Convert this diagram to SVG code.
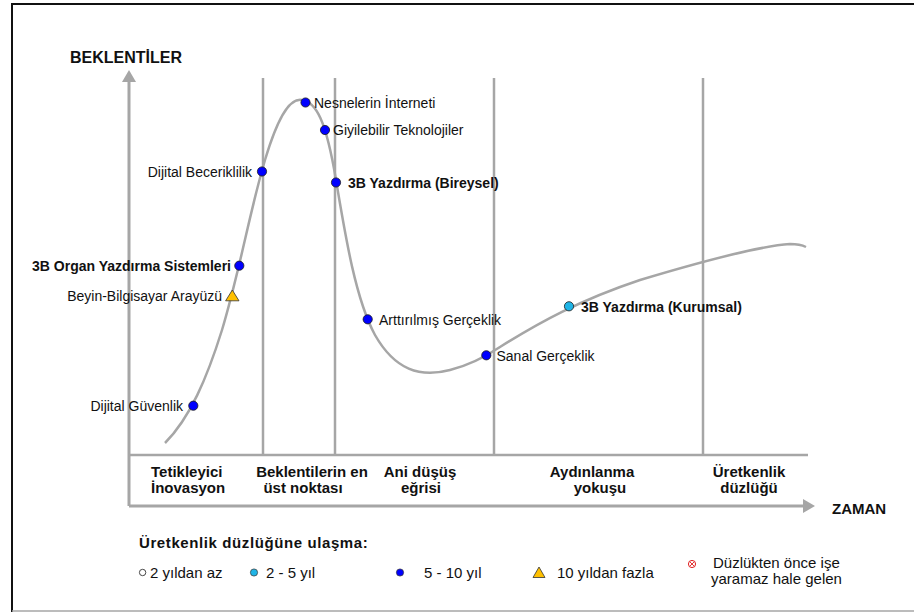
<svg xmlns="http://www.w3.org/2000/svg" width="914" height="612" viewBox="0 0 914 612">
<style>
.t{font-family:"Liberation Sans",Arial,sans-serif;font-size:14px;fill:#111}
.b{font-weight:bold}
.e{text-anchor:end}
.ph{font-family:"Liberation Sans",Arial,sans-serif;font-size:15px;font-weight:bold;fill:#111;text-anchor:middle}
.ax{font-family:"Liberation Sans",Arial,sans-serif;font-weight:bold;fill:#111}
.lg{font-family:"Liberation Sans",Arial,sans-serif;font-size:15px;fill:#111}
.g{stroke:#a6a6a6;stroke-width:2.5;fill:none}
.dot{fill:#0000ff;stroke:#1a1a1a;stroke-width:0.8}
.cy{fill:#1fb4e6;stroke:#1a1a1a;stroke-width:0.8}
.tri{fill:#ffc000;stroke:#333;stroke-width:0.8}
</style>
<defs>
<marker id="ah" viewBox="0 0 12 14" refX="0" refY="7" markerWidth="12" markerHeight="14" orient="auto" markerUnits="userSpaceOnUse">
<path d="M0,0 L12,7 L0,14 z" fill="#a6a6a6"/>
</marker>
</defs>
<rect x="0" y="0" width="914" height="612" fill="#fff"/>
<g id="frame">
<path d="M12,612 V4 H914" fill="none" stroke="#111" stroke-width="2"/>
<line x1="12" y1="611" x2="914" y2="611" stroke="#a6a6a6" stroke-width="1.6"/>
</g>
<g id="axes">
<line x1="129" y1="506" x2="129" y2="82" stroke="#a6a6a6" stroke-width="3" marker-end="url(#ah)"/>
<line x1="129" y1="506" x2="803" y2="506" stroke="#a6a6a6" stroke-width="3" marker-end="url(#ah)"/>
<text class="ax" x="70" y="63" font-size="16">BEKLENTİLER</text>
<text class="ax" x="832" y="514" font-size="15">ZAMAN</text>
</g>
<g id="connectors">
<line class="g" x1="263" y1="78" x2="263" y2="455"/>
<line class="g" x1="335" y1="78" x2="335" y2="455"/>
<line class="g" x1="494" y1="78" x2="494" y2="455"/>
<line class="g" x1="703" y1="78" x2="703" y2="455"/>
<line class="g" x1="129" y1="455" x2="808" y2="455"/>
<path class="g" stroke-width="3" d="M165,443 C190,418 207,378 222,330 C240,270 250,210 265,160 C280,110 292,98 302,100 C316,102 326,120 336,180 C346,240 356,300 375,335 C395,370 420,378 450,370 C470,365 485,357 500,347 C540,322 580,300 640,280 C700,262 760,246 790,244 C800,244 806,247 806,247"/>
</g>
<g id="phases">
<text class="ph" x="151" y="477" style="text-anchor:start">Tetikleyici</text>
<text class="ph" x="151" y="493" style="text-anchor:start">İnovasyon</text>
<text class="ph" x="312" y="477">Beklentilerin en</text>
<text class="ph" x="303" y="493">üst noktası</text>
<text class="ph" x="420" y="477">Ani düşüş</text>
<text class="ph" x="421" y="493">eğrisi</text>
<text class="ph" x="592" y="477">Aydınlanma</text>
<text class="ph" x="600" y="493">yokuşu</text>
<text class="ph" x="749" y="477">Üretkenlik</text>
<text class="ph" x="749" y="493">düzlüğü</text>
</g>
<g id="n-nesnelerin"><circle class="dot" cx="305.5" cy="102.5" r="4.6"/><text class="t" x="314" y="107.5">Nesnelerin İnterneti</text></g>
<g id="n-giyilebilir"><circle class="dot" cx="325" cy="130" r="4.6"/><text class="t" x="333" y="135">Giyilebilir Teknolojiler</text></g>
<g id="n-bireysel"><circle class="dot" cx="336" cy="182.5" r="4.6"/><text class="t b" x="348" y="188">3B Yazdırma (Bireysel)</text></g>
<g id="n-beceriklilik"><circle class="dot" cx="262" cy="171.5" r="4.6"/><text class="t e" x="252" y="177">Dijital Beceriklilik</text></g>
<g id="n-organ"><circle class="dot" cx="239.3" cy="265.7" r="4.6"/><text class="t b e" x="231" y="271">3B Organ Yazdırma Sistemleri</text></g>
<g id="n-beyin"><path class="tri" d="M232.3,290 L239,300.8 L225.6,300.8 Z"/><text class="t e" x="222" y="300.5">Beyin-Bilgisayar Arayüzü</text></g>
<g id="n-guvenlik"><circle class="dot" cx="193.3" cy="405.7" r="4.6"/><text class="t e" x="183" y="411">Dijital Güvenlik</text></g>
<g id="n-arttirilmis"><circle class="dot" cx="367.7" cy="319.3" r="4.6"/><text class="t" x="379" y="324.5">Arttırılmış Gerçeklik</text></g>
<g id="n-sanal"><circle class="dot" cx="486.3" cy="355.3" r="4.6"/><text class="t" x="496.5" y="360.5">Sanal Gerçeklik</text></g>
<g id="n-kurumsal"><circle class="cy" cx="569" cy="306.3" r="4.6"/><text class="t b" x="581" y="311.5">3B Yazdırma (Kurumsal)</text></g>
<g id="legend">
<text class="lg b" x="139" y="548" font-size="16" letter-spacing="0.6">Üretkenlik düzlüğüne ulaşma:</text>
<circle cx="142.6" cy="572.5" r="3.2" fill="#fff" stroke="#333" stroke-width="0.9"/>
<text class="lg" x="150" y="577.5">2 yıldan az</text>
<circle cx="254" cy="572.5" r="3.6" fill="#1fb4e6" stroke="#333" stroke-width="0.7"/>
<text class="lg" x="266" y="577.5">2 - 5 yıl</text>
<circle cx="400" cy="572.5" r="3.6" fill="#0000ff" stroke="#333" stroke-width="0.7"/>
<text class="lg" x="424" y="577.5">5 - 10 yıl</text>
<path d="M539,567 L545,577.5 L533,577.5 Z" fill="#ffc000" stroke="#333" stroke-width="0.8"/>
<text class="lg" x="557" y="577.5">10 yıldan fazla</text>
<circle cx="692" cy="564" r="3.6" fill="#fff" stroke="#e02020" stroke-width="1"/>
<path d="M689.8,561.8 L694.2,566.2 M694.2,561.8 L689.8,566.2" stroke="#e02020" stroke-width="0.9"/>
<text class="lg" x="713" y="568">Düzlükten önce işe</text>
<text class="lg" x="711" y="584">yaramaz hale gelen</text>
</g>
</svg>
